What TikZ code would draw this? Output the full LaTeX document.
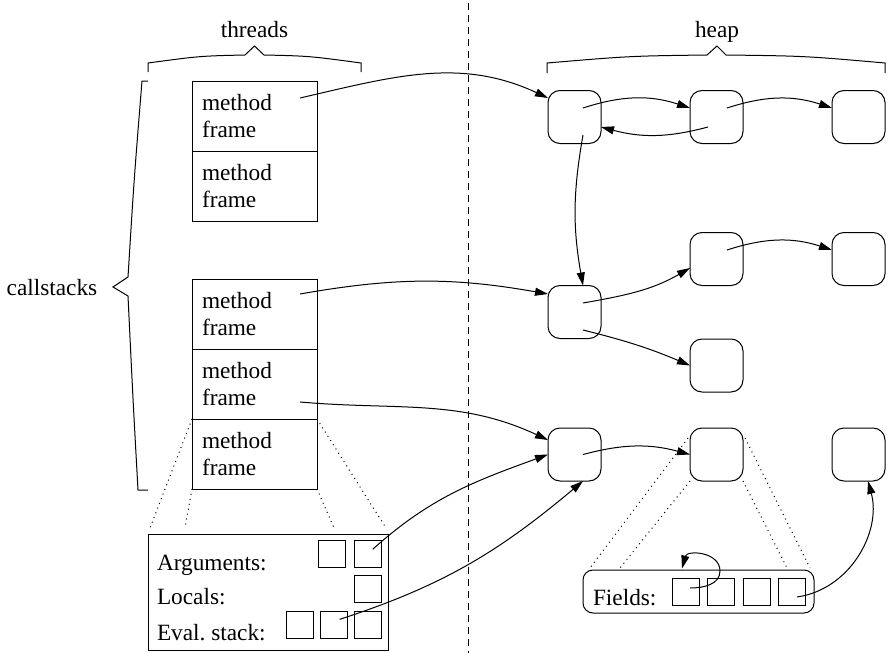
\documentclass[tikz,border=0pt]{standalone}
\usepackage{fontspec}
\setmainfont{Liberation Serif}
\usetikzlibrary{positioning}
\usetikzlibrary{arrows.meta}

\begin{document}
\begin{tikzpicture}[x=0.5pt,y=0.5pt,node distance=44.5pt,line width=0.5pt,
	every node/.style={inner sep=0,outer sep=0,font=\fontsize{11.65}{13.5}\selectfont},
	frm/.style={draw,minimum width=62.5pt,minimum height=35pt,text width=52.5pt,inner xsep=5pt,align=left},
	obj/.style={draw,rounded corners=6pt,minimum size=26.5pt},
	cell/.style={draw,minimum size=13.5pt},
	ref/.style={-{Triangle[length=6.5pt,width=4pt]}},
	brc/.style={line join=miter},
	zoomln/.style={dotted}]
	\useasboundingbox (0,0) rectangle (889,-653);
	% separator
	\draw[dash pattern=on 3.5pt off 2.5pt] (468,-3) -- (468,-653);
	% threads and callstacks
	\node (thr) [anchor=base] at (254.5,-37) {threads};
	\node (cst) [anchor=base] at (52,-295) {callstacks};
	\draw[brc] (148,-72) -- (148,-63) .. controls (200,-56) .. (245,-55) -- (254.5,-46)
		-- (264,-55) .. controls (309,-56) .. (361,-63) -- (361,-72);
	\draw[brc] (148,-81) -- (142,-81) .. controls (134,-180) .. (128,-277) -- (113,-287)
		-- (128,-296) .. controls (133,-400) .. (138,-490) -- (148,-490);
	\node (f11) [frm] at (254.5,-116.5) {method\\frame};
	\node (f12) [frm, below=0pt of f11] {method\\frame};
	\node (f21) [frm] at (254.5,-314) {method\\frame};
	\node (f22) [frm, below=0pt of f21] {method\\frame};
	\node (f23) [frm, below=0pt of f22] {method\\frame};
	% frame contents
	\node (stk) [draw, minimum width=120pt, minimum height=58pt] at (268,-592) {};
	\node (arg2) [cell, below left=4.5pt of stk.north east] {};
	\node (arg1) [cell, left=4.5pt of arg2] {};
	\node (loc1) [cell, below=4.25pt of arg2] {};
	\node (ev3) [cell, below=4.25pt of loc1] {};
	\node (ev2) [cell, left=3.5pt of ev3] {};
	\node (ev1) [cell, left=3.5pt of ev2] {};
	\node (largs) [anchor=base west] at (157,-570) {Arguments:};
	\node (llocs) [anchor=base west] at (157,-604) {Locals:};
	\node (leval) [anchor=base west] at (157,-640) {Eval.\ stack:};
	\draw[zoomln] (f23.north west) -- ([shift={(2,6)}]stk.north west);
	\draw[zoomln] (f23.south west) -- ([shift={(37,6)}]stk.north west);
	\draw[zoomln] (f23.north east) -- ([shift={(-2,6)}]stk.north east);
	\draw[zoomln] (f23.south east) -- ([shift={(-54,6)}]stk.north east);
	% heap
	\node (hp) [anchor=base] at (717,-37) {heap};
	\draw[brc] (547,-73) -- (547,-63) .. controls (630,-56) .. (707,-55) -- (717,-46)
		-- (726,-55) .. controls (805,-56) .. (885,-63) -- (885,-73);
	\node (a1) [obj] at (574.5,-117) {};
	\node (a2) [obj, right=of a1] {};
	\node (a3) [obj, right=of a2] {};
	\node (b2) [obj] at (716.5,-259) {};
	\node (b3) [obj, right=of b2] {};
	\node (c1) [obj] at (574.5,-312) {};
	\node (c2) [obj] at (716.5,-365.5) {};
	\node (d1) [obj] at (574.5,-454.5) {};
	\node (d2) [obj, right=of d1] {};
	\node (d3) [obj, right=of d2] {};
	% object contents
	\node (fb) [draw, rounded corners=5pt, minimum width=115.5pt, minimum height=21.5pt] at (698.5,-591.5) {};
	\node (fld1) [cell] at (685.5,-592) {};
	\node (fld2) [cell, right=4.25pt of fld1] {};
	\node (fld3) [cell, right=4.25pt of fld2] {};
	\node (fld4) [cell, right=4.25pt of fld3] {};
	\node (lfld) [anchor=base west] at (593,-605) {Fields:};
	\draw[zoomln] ([shift={(-2,-10)}]d2.north west) -- ([shift={(7,2)}]fb.north west);
	\draw[zoomln] (d2.south west) -- ([shift={(37,2)}]fb.north west);
	\draw[zoomln] ([shift={(2,-10)}]d2.north east) -- ([shift={(-4,2)}]fb.north east);
	\draw[zoomln] (d2.south east) -- ([shift={(-27,2)}]fb.north east);
	% references
	\draw[ref] ([shift={(45.5,18.5)}]f11.center) to[out=13,in=155] ([shift={(0,19)}]a1.west);
	\draw[ref] ([shift={(8.5,9)}]a1.center) to[out=18,in=162] ([shift={(0,9)}]a2.west);
	\draw[ref] ([shift={(-8.5,-10)}]a2.center) to[out=195,in=-15] ([shift={(0,-10)}]a1.east);
	\draw[ref] ([shift={(10.5,9)}]a2.center) to[out=18,in=162] ([shift={(0,9)}]a3.west);
	\draw[ref] ([shift={(8.5,-18)}]a1.center) to[out=260,in=100] ([shift={(8.5,0)}]c1.north);
	\draw[ref] ([shift={(45.5,20)}]f21.center) to[out=10,in=170] ([shift={(0,18)}]c1.west);
	\draw[ref] ([shift={(8.5,9)}]c1.center) to[out=10,in=210] ([shift={(0,-9)}]b2.west);
	\draw[ref] ([shift={(10.5,9)}]b2.center) to[out=18,in=162] ([shift={(0,9)}]b3.west);
	\draw[ref] ([shift={(8.5,-18)}]c1.center) to[out=-14,in=157] (c2.west);
	\draw[ref] ([shift={(45.5,-18)}]f22.center) to[out=-5,in=155] ([shift={(0,14.5)}]d1.west);
	\draw[ref] ([shift={(4.5,4.5)}]arg2.center) to[out=42,in=200] (d1.west);
	\draw[ref] ([shift={(5.5,5.5)}]ev2.center) to[out=18,in=220] ([shift={(8.5,0)}]d1.south);
	\draw[ref] ([shift={(8.5,0)}]d1.center) to[out=15,in=165] (d2.west);
	\draw[ref] ([shift={(5,-5)}]fld4.center) to[out=8,in=-75] ([shift={(9.5,0)}]d3.south);
	\draw[ref] ([shift={(4.5,4)}]fld1.center) to[out=0,in=-90] ++(30,17)
		to[out=90,in=75,looseness=1.3] ([shift={(-3.5,10)}]fld1.north);
\end{tikzpicture}
\end{document}
